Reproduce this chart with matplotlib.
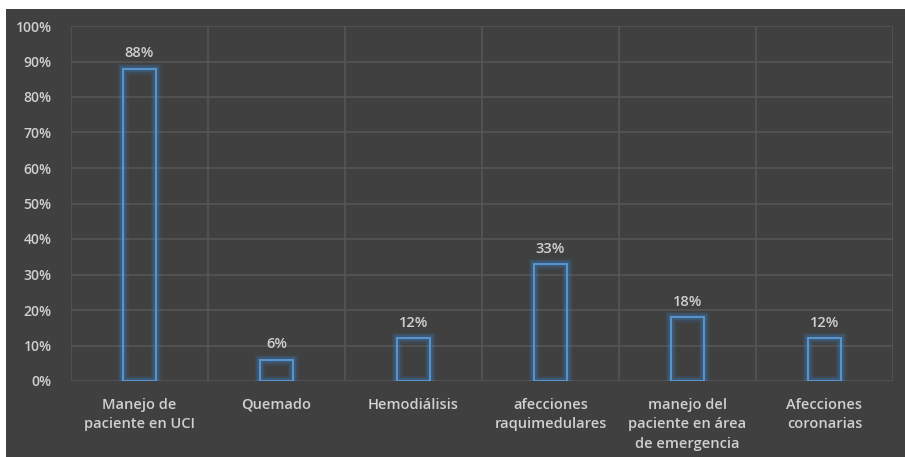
import matplotlib
matplotlib.use("Agg")
import matplotlib.pyplot as plt
from matplotlib.patches import Rectangle
from matplotlib.ticker import FixedLocator

categories = ["Manejo de\npaciente en UCI", "Quemado", "Hemodiálisis",
              "afecciones\nraquimedulares", "manejo del\npaciente en área\nde emergencia",
              "Afecciones\ncoronarias"]
values = [88, 6, 12, 33, 18, 12]
yticks = list(range(0, 101, 10))
ytick_labels = [f"{v}%" for v in yticks]

BG = "#404040"
GRID = "#555555"
TXT = "#d0d0d0"
EDGE = "#5b9bd5"

plt.rcParams['font.family'] = ['Open Sans', 'DejaVu Sans']

fig = plt.figure(figsize=(9.05, 4.57), dpi=100)
fig.patch.set_facecolor("white")
fig.patches.append(Rectangle((6/905, 0), 1, 1 - 9/457, transform=fig.transFigure,
                             facecolor=BG, edgecolor="none", zorder=-10))

W, H = 905, 457
ax = fig.add_axes([71/W, (H-381)/H, (893-71)/W, (381-26)/H])
ax.set_facecolor(BG)
ax.set_xlim(-0.5, len(categories) - 0.5)
ax.set_ylim(0, 100)

x = list(range(len(categories)))
bw = 0.24
# glow
for lw, a in [(8, 0.10), (6, 0.15), (4, 0.25)]:
    ax.bar(x, values, width=bw, facecolor="none", edgecolor="#3a7fc4", linewidth=lw,
           alpha=a, zorder=3)
ax.bar(x, values, width=bw, facecolor="none", edgecolor=EDGE, linewidth=1.3, zorder=4)

for xi, v in zip(x, values):
    ax.annotate(f"{v}%", (xi, v), xytext=(0, 6), textcoords="offset points",
                ha="center", va="bottom", color=TXT, fontsize=10.5, fontweight="semibold")

ax.set_yticks(yticks)
ax.set_yticklabels(ytick_labels)
ax.set_xticks(x)
ax.set_xticklabels(categories, linespacing=1.5)
ax.xaxis.set_minor_locator(FixedLocator([i - 0.5 for i in range(len(categories) + 1)]))
ax.grid(True, axis="y", which="major", color=GRID, linewidth=1.2, zorder=0)
ax.grid(True, axis="x", which="minor", color=GRID, linewidth=1.2, zorder=0)
ax.grid(False, axis="x", which="major")
ax.tick_params(axis="y", which="both", length=0, colors=TXT, labelsize=10, pad=14)
ax.tick_params(axis="x", which="both", length=0, colors=TXT, labelsize=10.5, pad=12)
for lab in ax.get_yticklabels() + ax.get_xticklabels():
    lab.set_fontweight("semibold")
    lab.set_color(TXT)
for s in ax.spines.values():
    s.set_visible(False)
ax.set_axisbelow(True)

fig.savefig("out.png", dpi=100, facecolor=fig.get_facecolor())
